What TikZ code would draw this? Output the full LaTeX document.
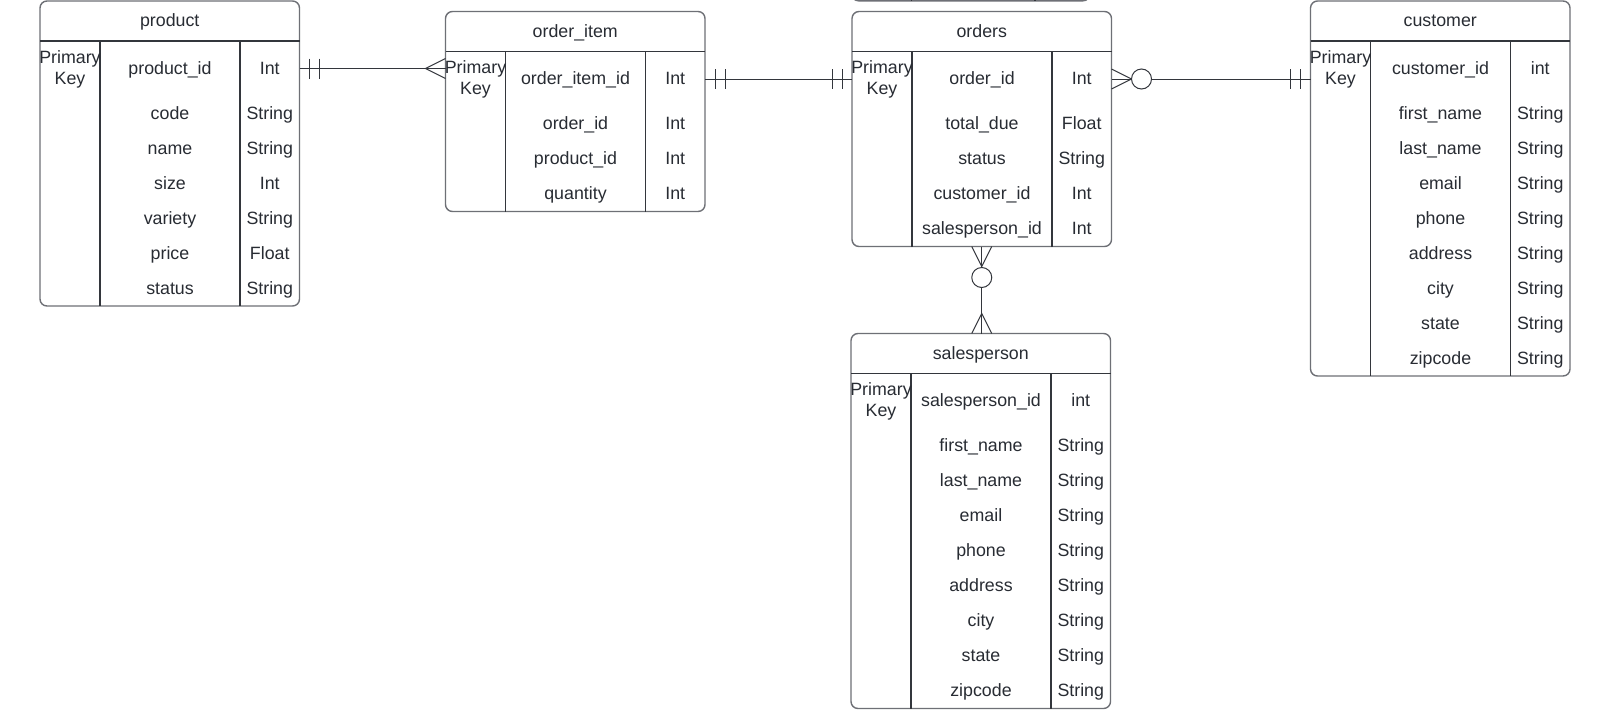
\documentclass[tikz,border=0pt]{standalone}
\usepackage{fontspec}
\setmainfont{Liberation Sans}
\definecolor{boxc}{HTML}{6E7076}
\definecolor{linec}{HTML}{33363C}
\definecolor{txtc}{HTML}{282C33}
\tikzset{
  tbl/.style={draw=boxc, line width=1.4pt, rounded corners=7pt, minimum width=259.5pt, inner sep=0pt, outer sep=0pt, fill=white},
  innerline/.style={draw=linec, line width=1.2pt},
  txt/.style={text=txtc, font=\fontsize{17.8}{21}\selectfont, inner sep=0pt, anchor=center, text height=14pt, text depth=2.8pt},
  pklabel/.style={text=txtc, font=\fontsize{17.8}{21}\selectfont, inner sep=0pt, anchor=center, align=center},
  conn/.style={draw=linec, line width=1pt},
}
\newcommand\ertable[8]{%
  \pgfmathsetmacro\erh{95+35*#4}%
  \node[tbl, minimum height=\erh pt, anchor=north west] (#1) at (#2,#3) {};
  \draw[innerline] ([yshift=-40pt]#1.north west) -- ([yshift=-40pt]#1.north east);
  \draw[innerline] ([xshift=60pt,yshift=-40pt]#1.north west) -- ([xshift=60pt]#1.south west);
  \draw[innerline] ([xshift=200pt,yshift=-40pt]#1.north west) -- ([xshift=200pt]#1.south west);
  \node[txt] (#1-title) at ([yshift=-20pt]#1.north) {#5};
  \node[pklabel] (#1-pkl) at ([xshift=30pt,yshift=-68pt]#1.north west) {Primary\\Key};
  \node[txt] (#1-pk) at ([xshift=130pt,yshift=-67.5pt]#1.north west) {#6};
  \node[txt] (#1-pkt) at ([xshift=229.75pt,yshift=-67.5pt]#1.north west) {#7};
  \foreach \f/\t [count=\i] in {#8} {
    \pgfmathsetmacro\ery{-112.5-35*(\i-1)}
    \node[txt] (#1-f\i) at ([xshift=130pt,yshift=\ery pt]#1.north west) {\f};
    \node[txt] (#1-t\i) at ([xshift=229.75pt,yshift=\ery pt]#1.north west) {\t};
  }
}
\begin{document}
\begin{tikzpicture}[x=1pt,y=-1pt]
\useasboundingbox[fill=white] (0,0) rectangle (1613,718);

% partially visible box at the top edge
\node[tbl, minimum width=238.5pt, minimum height=60pt, anchor=south west] (topbox) at (851.5,0.8) {};
\draw[innerline] ([xshift=60pt]topbox.south west) -- ([xshift=60pt]topbox.north west);
\draw[innerline] ([xshift=183.5pt]topbox.south west) -- ([xshift=183.5pt]topbox.north west);

\ertable{product}{40}{1}{6}{product}{product\_id}{Int}%
  {code/String, name/String, size/Int, variety/String, price/Float, status/String}
\ertable{oi}{445.5}{11.5}{3}{order\_item}{order\_item\_id}{Int}%
  {order\_id/Int, product\_id/Int, quantity/Int}
\ertable{orders}{852}{11.5}{4}{orders}{order\_id}{Int}%
  {total\_due/Float, status/String, customer\_id/Int, salesperson\_id/Int}
\ertable{customer}{1310.5}{1}{8}{customer}{customer\_id}{int}%
  {first\_name/String, last\_name/String, email/String, phone/String, address/String, city/String, state/String, zipcode/String}
\ertable{salesperson}{851}{333.5}{8}{salesperson}{salesperson\_id}{int}%
  {first\_name/String, last\_name/String, email/String, phone/String, address/String, city/String, state/String, zipcode/String}

% product -- order_item (one and only one -- many)
\coordinate (a1) at (product.east |- product-pk);
\coordinate (a2) at (oi.west |- product-pk);
\draw[conn] (a1) -- (a2);
\draw[conn] ([xshift=10pt,yshift=10pt]a1) -- ([xshift=10pt,yshift=-10pt]a1);
\draw[conn] ([xshift=20pt,yshift=10pt]a1) -- ([xshift=20pt,yshift=-10pt]a1);
\draw[conn] ([yshift=10pt]a2) -- ([xshift=-20pt]a2) -- ([yshift=-10pt]a2);

% order_item -- orders (one -- one)
\coordinate (b1) at (oi.east |- oi-pk);
\coordinate (b2) at (orders.west |- oi-pk);
\draw[conn] (b1) -- (b2);
\draw[conn] ([xshift=10pt,yshift=10pt]b1) -- ([xshift=10pt,yshift=-10pt]b1);
\draw[conn] ([xshift=20pt,yshift=10pt]b1) -- ([xshift=20pt,yshift=-10pt]b1);
\draw[conn] ([xshift=-10pt,yshift=10pt]b2) -- ([xshift=-10pt,yshift=-10pt]b2);
\draw[conn] ([xshift=-20pt,yshift=10pt]b2) -- ([xshift=-20pt,yshift=-10pt]b2);

% orders -- customer (zero or many -- one)
\coordinate (c1) at (orders.east |- orders-pk);
\coordinate (c2) at (customer.west |- orders-pk);
\draw[conn] (c1) -- (c2);
\draw[conn] ([yshift=10pt]c1) -- ([xshift=20pt]c1) -- ([yshift=-10pt]c1);
\draw[conn, fill=white] ([xshift=30pt]c1) circle[radius=10pt];
\draw[conn] ([xshift=-10pt,yshift=10pt]c2) -- ([xshift=-10pt,yshift=-10pt]c2);
\draw[conn] ([xshift=-20pt,yshift=10pt]c2) -- ([xshift=-20pt,yshift=-10pt]c2);

% orders -- salesperson (zero or many -- many)
\coordinate (d1) at (orders.south);
\coordinate (d2) at (salesperson.north -| orders.south);
\draw[conn] (d1) -- (d2);
\draw[conn] ([xshift=-10pt]d1) -- ([yshift=-20pt]d1) -- ([xshift=10pt]d1);
\draw[conn, fill=white] ([yshift=-31pt]d1) circle[radius=10pt];
\draw[conn] ([xshift=-10pt]d2) -- ([yshift=20pt]d2) -- ([xshift=10pt]d2);
\end{tikzpicture}
\end{document}
